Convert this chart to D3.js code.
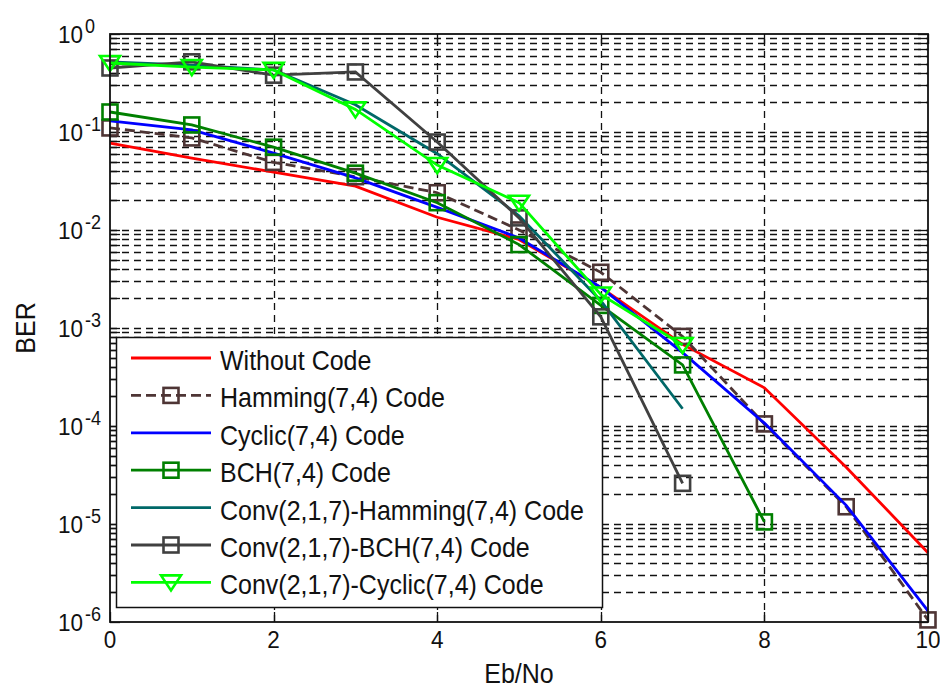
<!DOCTYPE html>
<html>
<head>
<meta charset="utf-8">
<script src="https://cdn.jsdelivr.net/npm/d3@7"></script>
<style>
  body { margin: 0; background: #fff; }
  svg text { font-family: Arial, "Liberation Sans", sans-serif; fill: #111; }
</style>
</head>
<body>
<div id="chart"></div>
<script>
// Eb/No values (dB)
var ebno = [0, 1, 2, 3, 4, 5, 6, 7, 8, 9, 10];
// BER per scheme
var berNone = [0.077, 0.054, 0.039, 0.028, 0.0135, 0.0080, 0.0026, 0.00068, 0.000245, 0.000038, 0.0000051];
var berHamming = [0.11, 0.087, 0.049, 0.035, 0.024, 0.010, 0.0037, 0.00082, 0.000105, 0.000015, 0.00000105];
var berCyclic = [0.13, 0.105, 0.061, 0.034, 0.017, 0.0083, 0.0026, 0.00056, 0.000107, 0.0000155, 0.0000013];
var berBch = [0.16, 0.118, 0.070, 0.038, 0.019, 0.0071, 0.0017, 0.00042, 0.0000105];
var berConvHamming = [0.52, 0.48, 0.43, 0.19, 0.06, 0.014, 0.0019, 0.00015];
var berConvBch = [0.45, 0.52, 0.38, 0.41, 0.079, 0.0133, 0.0013, 0.000026];
var berConvCyclic = [0.506, 0.46, 0.43, 0.17, 0.046, 0.019, 0.0022, 0.00067];

var seriesNames = ["Without Code", "Hamming(7,4) Code", "Cyclic(7,4) Code", "BCH(7,4) Code",
    "Conv(2,1,7)-Hamming(7,4) Code", "Conv(2,1,7)-BCH(7,4) Code", "Conv(2,1,7)-Cyclic(7,4) Code"];
var xTicks = [0, 2, 4, 6, 8, 10];
var yExponents = [0, -1, -2, -3, -4, -5, -6];

var series = [
    {name: seriesNames[0], values: berNone, color: "#ff0000", dash: null, marker: null},
    {name: seriesNames[1], values: berHamming, color: "#4e3535", dash: "10,5", marker: "square"},
    {name: seriesNames[2], values: berCyclic, color: "#0000ff", dash: null, marker: null},
    {name: seriesNames[3], values: berBch, color: "#008000", dash: null, marker: "square"},
    {name: seriesNames[4], values: berConvHamming, color: "#006868", dash: null, marker: null},
    {name: seriesNames[5], values: berConvBch, color: "#404040", dash: null, marker: "square"},
    {name: seriesNames[6], values: berConvCyclic, color: "#00ff00", dash: null, marker: "triangle"}
];

var W = 940, H = 691;
var plotLeft = 110, plotRight = 928, plotTop = 34, plotBottom = 622;
var STRETCH = 1.1;  // source text is a bit taller than Arial

var x = d3.scaleLinear().domain([0, 10]).range([plotLeft, plotRight]);
var y = d3.scaleLog().domain([1e-6, 1]).range([plotBottom, plotTop]);

var svg = d3.select("#chart").append("svg").attr("width", W).attr("height", H);

function txt(g, px, py, str, size, anchor) {
    return g.append("text")
        .attr("transform", "translate(" + px + "," + py + ") scale(1," + STRETCH + ")")
        .attr("text-anchor", anchor || "start")
        .style("font-size", size + "px")
        .text(str);
}

// grid
var grid = svg.append("g").attr("class", "grid")
    .attr("stroke", "#111").attr("stroke-width", 1.3).attr("stroke-dasharray", "7,5");
grid.selectAll("line.h")
    .data(y.ticks().filter(function (v) { return v > 1e-6 && v < 1; }))
    .enter().append("line")
    .attr("x1", plotLeft).attr("x2", plotRight)
    .attr("y1", function (d) { return Math.round(y(d)) + 0.5; })
    .attr("y2", function (d) { return Math.round(y(d)) + 0.5; });
grid.selectAll("line.v")
    .data(xTicks.filter(function (v) { return v > 0 && v < 10; }))
    .enter().append("line")
    .attr("y1", plotBottom).attr("y2", plotTop)
    .attr("x1", function (d) { return Math.round(x(d)) + 0.5; })
    .attr("x2", function (d) { return Math.round(x(d)) + 0.5; });

// ticks, inside, on all four sides
var tickLen = 10;
var ticks = svg.append("g").attr("stroke", "#111").attr("stroke-width", 1.3);
xTicks.forEach(function (t) {
    var px = Math.round(x(t)) + 0.5;
    ticks.append("line").attr("x1", px).attr("x2", px).attr("y1", plotBottom).attr("y2", plotBottom - tickLen);
    ticks.append("line").attr("x1", px).attr("x2", px).attr("y1", plotTop).attr("y2", plotTop + tickLen);
});
y.ticks().forEach(function (t) {
    var py = Math.round(y(t)) + 0.5;
    ticks.append("line").attr("x1", plotLeft).attr("x2", plotLeft + tickLen).attr("y1", py).attr("y2", py);
    ticks.append("line").attr("x1", plotRight).attr("x2", plotRight - tickLen).attr("y1", py).attr("y2", py);
});

// series
var line = d3.line()
    .x(function (d, i) { return x(ebno[i]); })
    .y(function (d) { return y(d); });

function drawMarker(g, type, cx, cy, color) {
    if (type === "square") {
        g.append("rect")
            .attr("x", cx - 7.5).attr("y", cy - 7.5)
            .attr("width", 15).attr("height", 15)
            .attr("fill", "none").attr("stroke", color).attr("stroke-width", 2.6);
    } else if (type === "triangle") {
        g.append("path")
            .attr("d", "M" + (cx - 10) + "," + (cy - 7) + "L" + (cx + 10) + "," + (cy - 7) + "L" + cx + "," + (cy + 8) + "Z")
            .attr("fill", "none").attr("stroke", color).attr("stroke-width", 2.6)
            .attr("stroke-linejoin", "miter");
    }
}

var plot = svg.append("g").attr("class", "series");
series.forEach(function (s) {
    var g = plot.append("g");
    g.append("path")
        .datum(s.values)
        .attr("d", line)
        .attr("fill", "none")
        .attr("stroke", s.color)
        .attr("stroke-width", 2.8)
        .attr("stroke-dasharray", s.dash);
    if (s.marker) {
        s.values.forEach(function (v, i) {
            drawMarker(g, s.marker, x(ebno[i]), y(v), s.color);
        });
    }
});

// axes box
svg.append("rect")
    .attr("x", plotLeft).attr("y", plotTop)
    .attr("width", plotRight - plotLeft).attr("height", plotBottom - plotTop)
    .attr("fill", "none").attr("stroke", "#111").attr("stroke-width", 1.8);

// tick labels
var labels = svg.append("g");
xTicks.forEach(function (t) {
    txt(labels, x(t), 648, String(t), 22.5, "middle");
});
yExponents.forEach(function (e) {
    var py = y(Math.pow(10, e));
    txt(labels, 83, py + 9, "10", 22.5, "end");
    txt(labels, 85, py - 1, String(e), 18, "start");
});

txt(svg, (plotLeft + plotRight) / 2, 683, "Eb/No", 25, "middle");
svg.append("text")
    .attr("transform", "translate(35,328) rotate(-90) scale(1," + STRETCH + ")")
    .attr("text-anchor", "middle")
    .style("font-size", "25px")
    .text("BER");

// legend
var lg = svg.append("g").attr("class", "legend");
lg.append("rect")
    .attr("x", 116.5).attr("y", 337.5).attr("width", 486).attr("height", 270)
    .attr("fill", "#fff").attr("stroke", "#111").attr("stroke-width", 1.5);
series.forEach(function (s, i) {
    var ly = 358 + i * 37.4;
    lg.append("line")
        .attr("x1", 131).attr("x2", 211).attr("y1", ly).attr("y2", ly)
        .attr("stroke", s.color).attr("stroke-width", 2.8)
        .attr("stroke-dasharray", s.dash);
    if (s.marker) drawMarker(lg, s.marker, 171, ly, s.color);
    txt(lg, 220, ly + 12, s.name, 25, "start");
});
</script>
</body>
</html>
